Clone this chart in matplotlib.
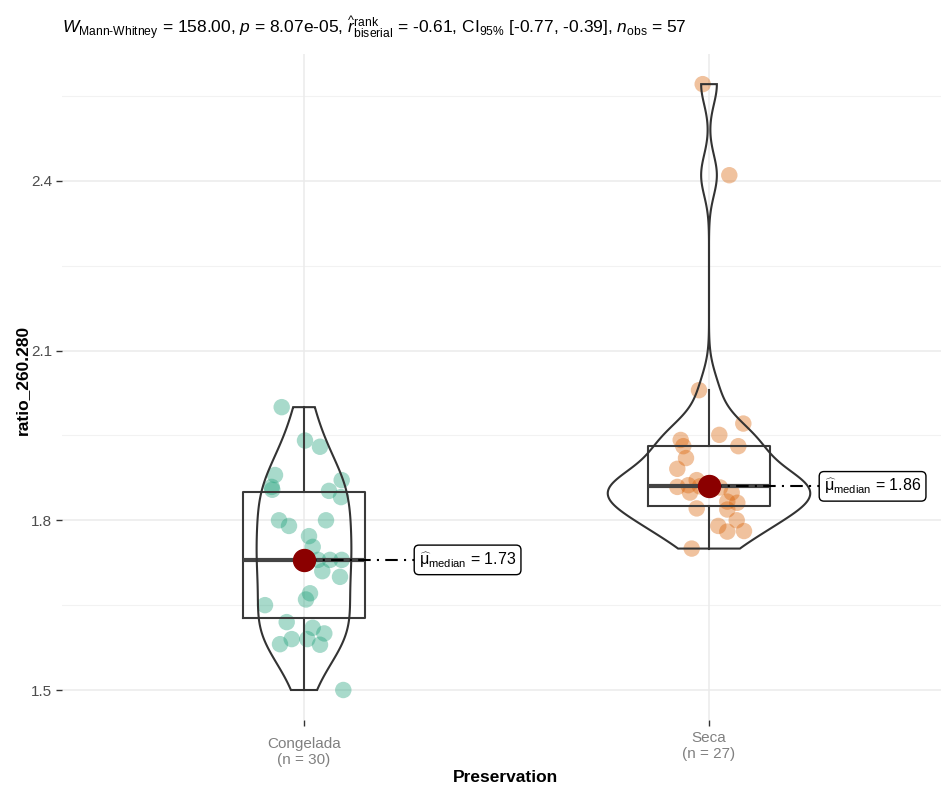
import numpy as np
import matplotlib
matplotlib.use('Agg')
import matplotlib.pyplot as plt

plt.rcParams['font.family'] = ['Liberation Sans', 'DejaVu Sans']
plt.rcParams['mathtext.fontset'] = 'custom'
plt.rcParams['mathtext.rm'] = 'Liberation Sans'
plt.rcParams['mathtext.it'] = 'Liberation Sans:italic'
plt.rcParams['mathtext.bf'] = 'Liberation Sans:bold'

groups = ['Congelada', 'Seca']
group_n = ['(n = 30)', '(n = 27)']

congelada = [2.00, 1.941, 1.930, 1.880, 1.859, 1.854, 1.871, 1.852, 1.841, 1.800,
             1.790, 1.800, 1.772, 1.753, 1.730, 1.730, 1.710, 1.700, 1.671, 1.660,
             1.650, 1.620, 1.610, 1.600, 1.590, 1.581, 1.590, 1.580, 1.500, 1.730]
congelada_x = [281.7, 305, 320, 275, 271.7, 272.3, 341.7, 329, 341, 279,
               289, 326, 309, 312.7, 330, 341.7, 322.3, 340, 310, 306,
               265, 286.7, 312.7, 324.3, 291.7, 280, 307.3, 320, 343.3, 318]

seca = [2.030, 1.971, 1.951, 1.942, 1.931, 1.931, 1.910, 1.891, 1.859, 1.862,
        1.849, 1.871, 1.849, 1.833, 1.831, 1.819, 1.821, 1.800, 1.790, 1.780,
        1.781, 1.750, 2.571, 2.410, 1.860, 1.862, 1.858]
seca_x = [699, 743.3, 719.3, 680.7, 683.3, 738.3, 686, 677.3, 677.3, 688.3,
          690, 696.7, 731.7, 727.3, 737.3, 727.3, 696.7, 736.7, 718.3, 727.3,
          744, 691.7, 702.7, 729.3, 700, 712, 720]

point_colors = ['#1B9E77', '#D95F02']

# pixel positions of the jitter converted to x units (group centres at 304 / 709 px)
def px_to_x(px, centre, pos):
    return pos + (px - centre) / 405.0

data = [np.array(congelada), np.array(seca)]
jit = [np.array([px_to_x(p, 304, 1) for p in congelada_x]),
       np.array([px_to_x(p, 709, 2) for p in seca_x])]

fig = plt.figure(figsize=(9.41, 7.87), dpi=100)
ax = fig.add_axes([62 / 941, 1 - 720 / 787, 1 - 62 / 941, (720 - 54) / 787])

ymin = 1.5 - 30 / 565.7
ymax = 1.5 + (690 - 54) / 565.7
ax.set_ylim(ymin, ymax)
ax.set_xlim(1 - 242 / 405, 1 + 637 / 405)

# grid
for v in [1.5, 1.8, 2.1, 2.4]:
    ax.axhline(v, color='#ebebeb', lw=1.1, zorder=0)
for v in [1.65, 1.95, 2.25, 2.55]:
    ax.axhline(v, color='#f2f2f2', lw=0.8, zorder=0)
for v in [1, 2]:
    ax.axvline(v, color='#ebebeb', lw=1.1, zorder=0)

# points
for i in range(2):
    ax.scatter(jit[i], data[i], s=140, color=point_colors[i], alpha=0.38,
               edgecolors='none', zorder=2)


# violin (gaussian kde, bw nrd0, trimmed, scale = area)
def nrd0(x):
    q75, q25 = np.percentile(x, [75, 25])
    lo = min(np.std(x, ddof=1), (q75 - q25) / 1.34)
    return 0.9 * lo * len(x) ** -0.2


dens = []
for d in data:
    bw = nrd0(d)
    yy = np.linspace(d.min(), d.max(), 512)
    z = (yy[:, None] - d[None, :]) / bw
    kd = np.exp(-0.5 * z ** 2).sum(axis=1) / (len(d) * bw * np.sqrt(2 * np.pi))
    dens.append((yy, kd))
dmax = max(kd.max() for yy, kd in dens)
for i, (yy, kd) in enumerate(dens):
    w = kd / dmax * 0.5 / 2
    xs = np.concatenate([i + 1 - w, (i + 1 + w)[::-1]])
    ys = np.concatenate([yy, yy[::-1]])
    ax.fill(xs, ys, facecolor='none', edgecolor='#333333', lw=1.5, zorder=4)

# boxplot
ax.boxplot(data, positions=[1, 2], widths=0.3, showfliers=False, showcaps=False,
           boxprops=dict(color='#3a3a3a', lw=1.5),
           whiskerprops=dict(color='#3a3a3a', lw=1.5),
           medianprops=dict(color='#444444', lw=3),
           zorder=3)

# medians
label_px = [414, 819]
for i, d in enumerate(data):
    med = np.median(d)
    xl = 1 + (label_px[i] - 304) / 405.0
    ax.plot([i + 1, xl], [med, med], color='black', lw=1.5, ls=(0, (6, 3, 1, 3)), zorder=5)
    ax.scatter([i + 1], [med], s=250, color='darkred', zorder=6)
    ax.text(xl + 5 / 405.0, med, r'$\widehat{\mathrm{\mu}}_{\mathrm{median}}$ = %.2f' % med,
            ha='left', va='center', fontsize=11.5, zorder=7,
            bbox=dict(boxstyle='round,pad=0.3,rounding_size=0.3', fc='white', ec='black', lw=1))

ax.set_yticks([1.5, 1.8, 2.1, 2.4])
ax.set_yticklabels(['1.5', '1.8', '2.1', '2.4'])
ax.tick_params(axis='y', length=4, width=1, color='#333333', labelcolor='#4d4d4d', labelsize=11, pad=3)
ax.set_xticks([1, 2])
ax.set_xticklabels(['', ''])
ax.tick_params(axis='x', length=4, width=1, color='#333333')
for s in ax.spines.values():
    s.set_visible(False)

# x tick labels (placed individually, as in the reference)
fig.text(304 / 941, 1 - 752 / 787, groups[0] + '\n' + group_n[0], ha='center', va='center',
         color='#808080', fontsize=11, linespacing=1.1)
fig.text(709 / 941, 1 - 746 / 787, groups[1] + '\n' + group_n[1], ha='center', va='center',
         color='#808080', fontsize=11, linespacing=1.1)

fig.text(506 / 941, 1 - 778 / 787, 'Preservation', ha='center', va='center',
         fontsize=12.5, fontweight='bold')
fig.text(22 / 941, 1 - 380 / 787, 'ratio_260.280', ha='center', va='center',
         rotation=90, fontsize=12.5, fontweight='bold')

title = (r'$W_{\text{Mann-Whitney}}$ = 158.00, $p$ = 8.07e-05, '
         r'$\widehat{r}_{\mathrm{biserial}}^{\mathrm{rank}}$ = -0.61, '
         r'CI$_{95\%}$ [-0.77, -0.39], $n_{\mathrm{obs}}$ = 57')
fig.text(62 / 941, 1 - 28 / 787, title, ha='left', va='center', fontsize=12.5)

fig.savefig('out.png', dpi=100)
